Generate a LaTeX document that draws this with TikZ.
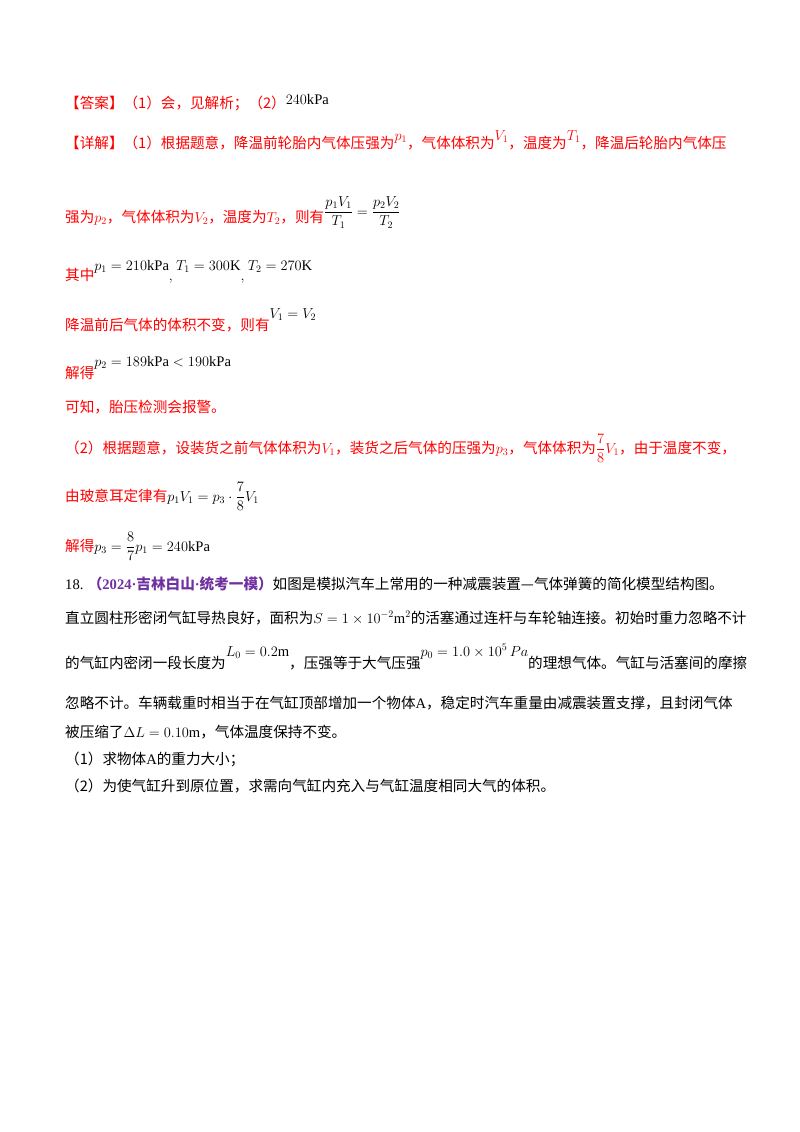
\documentclass[tikz,border=0pt]{standalone}
\usepackage{amsmath}
\usepackage{fontspec}
\setmainfont{Noto Sans CJK SC}
\newfontfamily\lt{Liberation Serif}
\definecolor{ansred}{RGB}{255,0,0}
\definecolor{srcpurple}{RGB}{112,48,160}
\newcommand{\up}[2]{\raisebox{#1pt}{$#2$}}
\newcommand{\un}[1]{\text{\lt #1}}
\tikzset{ln/.style={anchor=base west,inner sep=0pt,font=\fontsize{14.6}{17}\selectfont},
 red/.style={ln,text=ansred},blk/.style={ln,text=black}}
\begin{document}
\begin{tikzpicture}[x=1pt,y=-1pt]
\useasboundingbox (0,0) rectangle (800,1132);
\node[red] (l1) at (65,108) {【答案】（1）会，见解析；（2）\textcolor{black}{\up{4}{240\un{kPa}}}};
\node[red] (l2) at (65,148) {【详解】（1）根据题意，降温前轮胎内气体压强为\up{8}{p_1}，气体体积为\up{8}{V_1}，温度为\up{8}{T_1}，降温后轮胎内气体压};
\node[red] (l3) at (65,222) {强为$p_2$，气体体积为$V_2$，温度为$T_2$，则有\textcolor{black}{\up{6}{\dfrac{p_1V_1}{T_1}=\dfrac{p_2V_2}{T_2}}}};
\node[red] (l4) at (65,280) {其中\textcolor{black}{\up{10}{p_1=210\un{kPa}}\up{0}{,}\ \up{10}{T_1=300\un{K}}\up{0}{,}\ \up{10}{T_2=270\un{K}}}};
\node[red] (l5) at (65,330) {降温前后气体的体积不变，则有\textcolor{black}{\up{12}{V_1=V_2}}};
\node[red] (l6) at (65,378) {解得\textcolor{black}{\up{12}{p_2=189\un{kPa}<190\un{kPa}}}};
\node[red] (l7) at (65,412) {可知，胎压检测会报警。};
\node[red] (l8) at (65,453) {（2）根据题意，设装货之前气体体积为$V_1$，装货之后气体的压强为$p_3$，气体体积为$\dfrac{7}{8}V_1$，由于温度不变，};
\node[red] (l9) at (65,501) {由玻意耳定律有\textcolor{black}{$p_1V_1=p_3\cdot\dfrac{7}{8}V_1$}};
\node[red] (l10) at (65,551) {解得\textcolor{black}{$p_3=\dfrac{8}{7}p_1=240\un{kPa}$}};
\node[blk] (q1) at (65,589) {{\lt 18.} \textcolor{srcpurple}{\bfseries （{\lt 2024·}吉林白山{\lt ·}统考一模）}如图是模拟汽车上常用的一种减震装置—气体弹簧的简化模型结构图。};
\node[blk] (q2) at (65,623) {直立圆柱形密闭气缸导热良好，面积为$S=1\times10^{-2}\un{m}^2$的活塞通过连杆与车轮轴连接。初始时重力忽略不计};
\node[blk] (q3) at (65,668) {的气缸内密闭一段长度为\up{12}{L_0=0.2\un{m}}，压强等于大气压强\up{12}{p_0=1.0\times10^5\,Pa}的理想气体。气缸与活塞间的摩擦};
\node[blk] (q4) at (65,708) {忽略不计。车辆载重时相当于在气缸顶部增加一个物体{\lt A}，稳定时汽车重量由减震装置支撑，且封闭气体};
\node[blk] (q5) at (65,737) {被压缩了$\Delta L=0.10\un{m}$，气体温度保持不变。};
\node[blk] (q6) at (65,764) {（1）求物体{\lt A}的重力大小；};
\node[blk] (q7) at (65,791) {（2）为使气缸升到原位置，求需向气缸内充入与气缸温度相同大气的体积。};
\end{tikzpicture}
\end{document}
